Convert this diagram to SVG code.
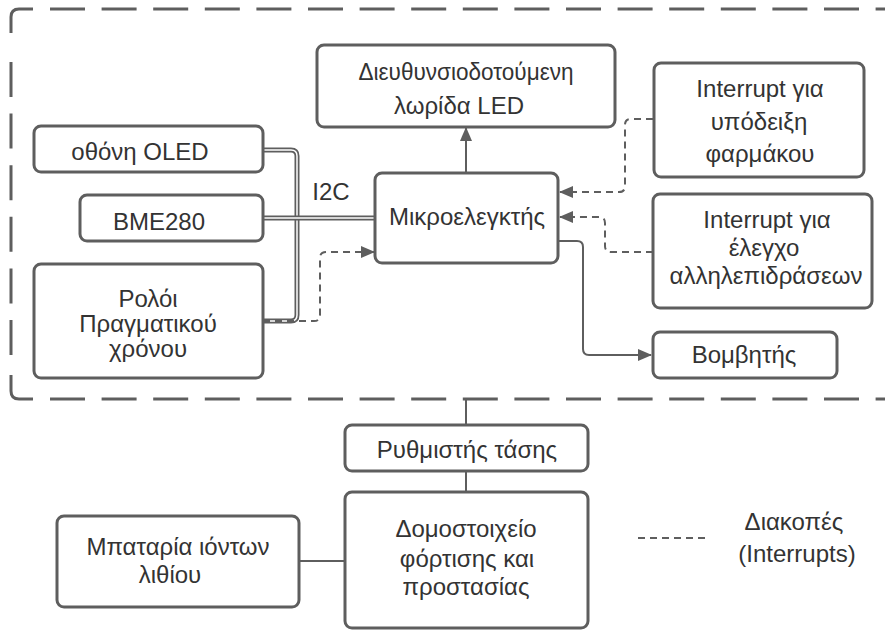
<svg xmlns="http://www.w3.org/2000/svg" width="885" height="630" viewBox="0 0 885 630">
<defs>
<style>
.box{fill:#fff;stroke:#5e5e5e;stroke-width:3}
.t{font-family:"Liberation Sans",Arial,sans-serif;font-size:24px;fill:#333;text-anchor:middle}
.ln{fill:none;stroke:#5e5e5e;stroke-width:2}
.dl{fill:none;stroke:#5e5e5e;stroke-width:2;stroke-dasharray:7 5}
.bd{fill:none;stroke:#5e5e5e;stroke-width:3}
.bus{fill:none;stroke:#5e5e5e;stroke-width:5}
.busw{fill:none;stroke:#fff;stroke-width:1.5}
</style>
<marker id="ah" markerWidth="14" markerHeight="12" refX="13" refY="6" orient="auto" markerUnits="userSpaceOnUse"><path d="M0,0 L14,6 L0,12 Z" fill="#5e5e5e"/></marker>
</defs>
<g id="border">
<path class="bd" d="M11,33 V17 Q11,9 19,9 H33"/>
<path class="bd" d="M50,9 H900" stroke-dasharray="35 16.6"/>
<path class="bd" d="M11,62 V356" stroke-dasharray="35 16.6"/>
<path class="bd" d="M11,375 V391 Q11,399 19,399 H33"/>
<path class="bd" d="M50,399 H900" stroke-dasharray="35 16.6"/>
</g>
<g id="connectors">
<path class="bus" d="M263,150 H291 Q297,150 297,156 V315 Q297,321 291,321 H263"/>
<path class="busw" d="M263,150 H291 Q297,150 297,156 V315 Q297,321 291,321 H263"/>
<path class="bus" d="M263,218 H375"/>
<path class="busw" d="M263,218 H375"/>
<path class="dl" d="M263,321 H314 Q320,321 320,315 V258 Q320,252 326,252 H374" marker-end="url(#ah)"/>
<path class="ln" d="M466,173 V128" marker-end="url(#ah)"/>
<path class="dl" d="M653,119 H631 Q625,119 625,125 V186 Q625,192 619,192 H560" marker-end="url(#ah)"/>
<path class="dl" d="M653,252 H611 Q605,252 605,246 V223 Q605,217 599,217 H560" marker-end="url(#ah)"/>
<path class="ln" d="M558,241 H577 Q583,241 583,247 V349 Q583,355 589,355 H651" marker-end="url(#ah)"/>
<path class="ln" d="M466,400 V425"/>
<path class="ln" d="M466,471 V492"/>
<path class="ln" d="M299,561 H345"/>
<path class="dl" d="M638,538 H707" stroke-dasharray="6 4"/>
<text class="t" x="331" y="200">I2C</text>
</g>
<g id="led"><rect class="box" x="317" y="45" width="298" height="82" rx="7"/><text class="t" x="466" y="80" textLength="215" lengthAdjust="spacingAndGlyphs">Διευθυνσιοδοτούμενη</text><text class="t" x="459" y="114">λωρίδα LED</text></g>
<g id="mcu"><rect class="box" x="375" y="173" width="183" height="90" rx="7"/><text class="t" x="467" y="225">Μικροελεγκτής</text></g>
<g id="oled"><rect class="box" x="34" y="126" width="229" height="46" rx="7"/><text class="t" x="140" y="160">οθόνη OLED</text></g>
<g id="bme"><rect class="box" x="80" y="195" width="183" height="46" rx="7"/><text class="t" x="159" y="230" font-size="25">BME280</text></g>
<g id="rtc"><rect class="box" x="34" y="264" width="229" height="114" rx="7"/><text class="t" x="148" y="307">Ρολόι</text><text class="t" x="148" y="332">Πραγματικού</text><text class="t" x="148" y="357">χρόνου</text></g>
<g id="int1"><rect class="box" x="654" y="63" width="210" height="114" rx="7"/><text class="t" x="760" y="97">Interrupt για</text><text class="t" x="759" y="130">υπόδειξη</text><text class="t" x="760" y="162">φαρμάκου</text></g>
<g id="int2"><rect class="box" x="653" y="194" width="219" height="114" rx="7"/><text class="t" x="767" y="228">Interrupt για</text><text class="t" x="764" y="256">έλεγχο</text><text class="t" x="766" y="284">αλληλεπιδράσεων</text></g>
<g id="buzzer"><rect class="box" x="653" y="332" width="184" height="46" rx="7"/><text class="t" x="744" y="363">Βομβητής</text></g>
<g id="regulator"><rect class="box" x="345" y="425" width="243" height="46" rx="7"/><text class="t" x="467" y="458">Ρυθμιστής τάσης</text></g>
<g id="charger"><rect class="box" x="345" y="492" width="243" height="136" rx="7"/><text class="t" x="466" y="537">Δομοστοιχείο</text><text class="t" x="467" y="567">φόρτισης και</text><text class="t" x="466" y="595">προστασίας</text></g>
<g id="battery"><rect class="box" x="57" y="516" width="242" height="91" rx="7"/><text class="t" x="178" y="555">Μπαταρία ιόντων</text><text class="t" x="170" y="583">λιθίου</text></g>
<g id="legend"><text class="t" x="794" y="530">Διακοπές</text><text class="t" x="797" y="562">(Interrupts)</text></g>
</svg>
